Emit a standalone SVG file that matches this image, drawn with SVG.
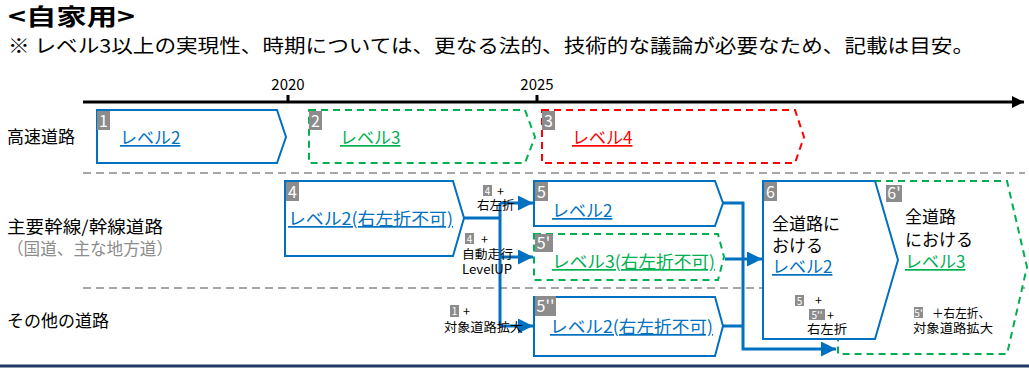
<svg xmlns="http://www.w3.org/2000/svg" width="1029" height="368" viewBox="0 0 1029 368">
<style>
text{font-family:"Noto Sans CJK JP","Noto Sans",sans-serif;fill:#000}
.title{font-size:23px;font-weight:bold}
.sub{font-size:19px}
.year{font-size:15px}
.row{font-size:17px}
.rowg{font-size:17px;fill:#8c8c8c}
.lv{font-size:17px;text-decoration:underline}
.blue{fill:#0070C0}
.green{fill:#00B050}
.red{fill:#FF0000}
.num{font-size:16px;fill:#fff}
.nb{fill:#8c8c8c}
.sm{font-size:12.5px}
.smn{font-size:10px;fill:#fff}
.big{font-size:17px}
.solid{fill:#fff;stroke:#0070C0;stroke-width:2}
.dg{fill:#fff;stroke:#00B050;stroke-width:2;stroke-dasharray:7 5}
.dr{fill:#fff;stroke:#FF0000;stroke-width:2;stroke-dasharray:7 5}
.sep{stroke:#a6a6a6;stroke-width:2;stroke-dasharray:8 5;fill:none}
.con{stroke:#0070C0;stroke-width:3;fill:none}
</style>
<defs>
<marker id="ah" viewBox="0 0 10 10" refX="10" refY="5" markerWidth="5.5" markerHeight="5" markerUnits="strokeWidth" orient="auto">
<path d="M0,0 L10,5 L0,10 z" fill="#0070C0"/>
</marker>
<marker id="tl" viewBox="0 0 10 10" refX="10" refY="5" markerWidth="4" markerHeight="4" markerUnits="strokeWidth" orient="auto">
<path d="M0,0 L10,5 L0,10 z" fill="#000"/>
</marker>
</defs>

<g id="header">
<text class="title" x="8" y="25" textLength="127" lengthAdjust="spacingAndGlyphs">&lt;自家用&gt;</text>
<text class="sub" x="8" y="53" textLength="966" lengthAdjust="spacingAndGlyphs">※ レベル3以上の実現性、時期については、更なる法的、技術的な議論が必要なため、記載は目安。</text>
</g>

<g id="timeline">
<line x1="83" y1="102" x2="1024" y2="102" stroke="#000" stroke-width="3" marker-end="url(#tl)"/>
<rect x="286.5" y="95" width="3" height="7" fill="#000"/>
<rect x="535.5" y="95" width="3" height="7" fill="#000"/>
<text class="year" x="288" y="90" text-anchor="middle">2020</text>
<text class="year" x="537" y="90" text-anchor="middle">2025</text>
</g>

<g id="separators">
<line class="sep" x1="83" y1="173" x2="1025" y2="173"/>
<line class="sep" x1="83" y1="288" x2="1025" y2="288"/>
<line x1="0" y1="366" x2="1029" y2="366" stroke="#1F3864" stroke-width="3"/>
</g>

<g id="row-labels">
<text class="row" x="7" y="143">高速道路</text>
<text class="row" x="7" y="233" textLength="156" lengthAdjust="spacingAndGlyphs">主要幹線/幹線道路</text>
<text class="rowg" x="7" y="255" textLength="166" lengthAdjust="spacingAndGlyphs">（国道、主な地方道）</text>
<text class="row" x="7" y="327">その他の道路</text>
</g>

<g id="node-1">
<polygon class="solid" points="97,110 277,110 286,137 277,163 97,163"/>
<rect class="nb" x="97" y="111" width="13" height="19"/>
<text class="num" x="103.5" y="127" text-anchor="middle">1</text>
<text class="lv blue" x="120" y="144">レベル2</text>
</g>

<g id="node-2">
<polygon class="dg" points="309,110 525,110 535,137 525,163 309,163"/>
<rect class="nb" x="309" y="111" width="13" height="19"/>
<text class="num" x="315.5" y="127" text-anchor="middle">2</text>
<text class="lv green" x="340" y="144">レベル3</text>
</g>

<g id="node-3">
<polygon class="dr" points="542,110 795,110 804,137 795,163 542,163"/>
<rect class="nb" x="542" y="111" width="13" height="19"/>
<text class="num" x="548.5" y="127" text-anchor="middle">3</text>
<text class="lv red" x="572" y="144">レベル4</text>
</g>

<g id="node-4">
<polygon class="solid" points="285,181 453,181 464,218 453,256 285,256"/>
<rect class="nb" x="286" y="182" width="13" height="19"/>
<text class="num" x="292.5" y="198" text-anchor="middle">4</text>
<text class="lv blue" x="288" y="225" textLength="165" lengthAdjust="spacingAndGlyphs">レベル2(右左折不可)</text>
</g>

<g id="connectors">
<polyline class="con" points="464,218 500,218"/>
<line class="con" x1="500" y1="203" x2="500" y2="326"/>
<line class="con" x1="500" y1="203" x2="533" y2="203" marker-end="url(#ah)"/>
<line class="con" x1="500" y1="257" x2="533" y2="257" marker-end="url(#ah)"/>
<line class="con" x1="500" y1="326" x2="533" y2="326" marker-end="url(#ah)"/>
<polyline class="con" points="723,203 743,203 743,349 836,349" marker-end="url(#ah)"/>
<line class="con" x1="723" y1="326" x2="743" y2="326"/>
<line class="con" x1="725" y1="259" x2="762" y2="259" marker-end="url(#ah)"/>
</g>

<g id="connector-labels">
<rect class="nb" x="483" y="185" width="9" height="11"/>
<text class="smn" x="487.5" y="194.5" text-anchor="middle">4</text>
<text class="sm" x="497" y="196">+</text>
<text class="sm" x="477" y="210">右左折</text>
<rect class="nb" x="465" y="233" width="9" height="11"/>
<text class="smn" x="469.5" y="242.5" text-anchor="middle">4</text>
<text class="sm" x="481" y="244">+</text>
<text class="sm" x="462" y="259" textLength="51" lengthAdjust="spacingAndGlyphs">自動走行</text>
<text class="sm" x="462" y="274" textLength="50" lengthAdjust="spacingAndGlyphs">LevelUP</text>
<rect class="nb" x="450" y="305" width="9" height="12"/>
<text class="smn" x="454.5" y="315" text-anchor="middle">1</text>
<text class="sm" x="463" y="316">+</text>
<text class="sm" x="444" y="332" textLength="79" lengthAdjust="spacingAndGlyphs">対象道路拡大</text>
</g>

<g id="node-5">
<polygon class="solid" points="534,181 715,181 723,203 715,226 534,226"/>
<rect class="nb" x="535" y="182" width="13" height="19"/>
<text class="num" x="541.5" y="198" text-anchor="middle">5</text>
<text class="lv blue" x="552" y="217">レベル2</text>
</g>

<g id="node-5p">
<polygon class="dg" points="534,234 718,234 724,257 718,280 534,280"/>
<rect class="nb" x="535" y="234" width="18" height="18"/>
<text class="num" x="543.5" y="249" text-anchor="middle">5'</text>
<text class="lv green" x="552" y="268" textLength="163" lengthAdjust="spacingAndGlyphs">レベル3(右左折不可)</text>
</g>

<g id="node-5pp">
<polygon class="solid" points="534,297 715,297 723,326 715,356 534,356"/>
<rect class="nb" x="535" y="296" width="21" height="20"/>
<text class="num" x="545.5" y="312" text-anchor="middle">5''</text>
<text class="lv blue" x="550" y="333" textLength="163" lengthAdjust="spacingAndGlyphs">レベル2(右左折不可)</text>
</g>

<g id="node-6p">
<polygon class="dg" points="838,181 1007,181 1027,267 1007,354 838,354"/>
</g>

<g id="node-6">
<polygon class="solid" points="763,181 875,181 898,260 875,339 763,339"/>
<rect class="nb" x="764" y="182" width="13" height="19"/>
<text class="num" x="770.5" y="198" text-anchor="middle">6</text>
<text class="big" x="772" y="230">全道路に</text>
<text class="big" x="772" y="252">おける</text>
<text class="lv blue big" x="772" y="273">レベル2</text>
<rect class="nb" x="795" y="295" width="9" height="11"/>
<text class="smn" x="799.5" y="304.5" text-anchor="middle">5</text>
<text class="sm" x="815" y="305">+</text>
<rect class="nb" x="809" y="309" width="16" height="11"/>
<text class="smn" x="817" y="318.5" text-anchor="middle">5''</text>
<text class="sm" x="827" y="320">+</text>
<text class="sm" x="807" y="334" textLength="40" lengthAdjust="spacingAndGlyphs">右左折</text>
</g>

<g id="node-6p-text">
<rect class="nb" x="886" y="185" width="16" height="17"/>
<text class="num" x="894" y="199" text-anchor="middle">6'</text>
<text class="big" x="905" y="223">全道路</text>
<text class="big" x="905" y="246">における</text>
<text class="lv green big" x="905" y="268">レベル3</text>
<rect class="nb" x="914" y="307" width="9" height="11"/>
<text class="smn" x="918.5" y="316.5" text-anchor="middle">5'</text>
<text class="sm" x="932" y="318" textLength="58" lengthAdjust="spacingAndGlyphs">＋右左折、</text>
<text class="sm" x="913" y="333" textLength="80" lengthAdjust="spacingAndGlyphs">対象道路拡大</text>
</g>
</svg>
